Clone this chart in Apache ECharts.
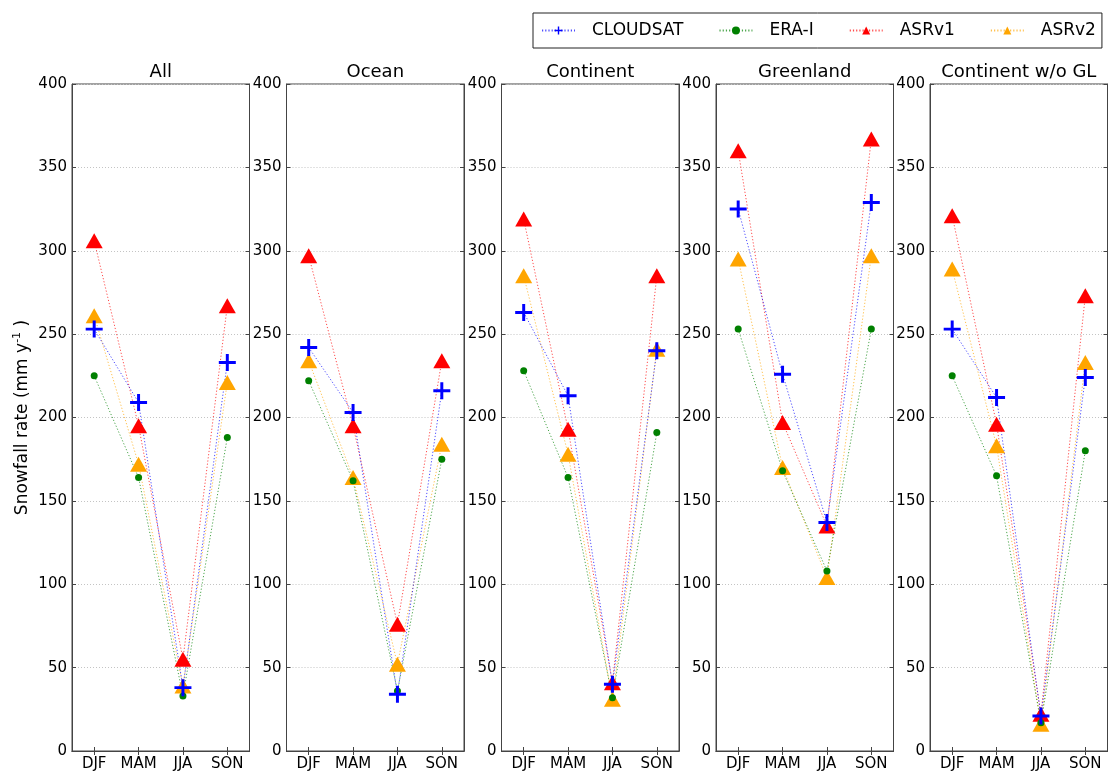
<!DOCTYPE html>
<html><head><meta charset="utf-8">
<script src="https://cdn.jsdelivr.net/npm/echarts@6/dist/echarts.min.js"></script>
<style>html,body{margin:0;padding:0;background:#fff}#c{width:1109px;height:772px}</style>
</head><body><div id="c"></div>
<script>
// ---- data ----
const seasons = ['DJF', 'MAM', 'JJA', 'SON'];
const regions = ['All', 'Ocean', 'Continent', 'Greenland', 'Continent w/o GL'];
const yTicks = [0, 50, 100, 150, 200, 250, 300, 350, 400];
// one row per region, values in season order (mm/y)
const cloudsat = [[253, 209, 38, 233], [242, 203, 34, 216], [263, 213, 40, 240], [325, 226, 137, 329], [253, 212, 21, 224]];
const eraI     = [[225, 164, 33, 188], [222, 162, 36, 175], [228, 164, 32, 191], [253, 168, 108, 253], [225, 165, 17, 180]];
const asrv1    = [[306, 195, 55, 267], [297, 195, 76, 234], [319, 193, 41, 285], [360, 197, 135, 367], [321, 196, 22, 273]];
const asrv2    = [[261, 172, 39, 221], [234, 164, 52, 184], [285, 178, 31, 241], [295, 170, 104, 297], [289, 183, 16, 233]];

// ---- layout / style ----
const FONT = 'DejaVu Sans';
const lefts = [72, 286.5, 501.5, 716, 930];
const W = 177.5, TOP = 84, BOTTOM = 20;
const frame = '#444';
const plusPath = 'path://M6.6,0H9.4V6.6H16V9.4H9.4V16H6.6V9.4H0V6.6H6.6Z';

const seriesDefs = [
  {name: 'ASRv2', data: asrv2, color: '#ffa500', symbol: 'triangle', size: [17, 15]},
  {name: 'ASRv1', data: asrv1, color: '#ff0000', symbol: 'triangle', size: [17, 15]},
  {name: 'ERA-I', data: eraI, color: '#008000', symbol: 'circle', size: 7},
  {name: 'CLOUDSAT', data: cloudsat, color: '#0000ff', symbol: plusPath, size: 17}
];

const grid = [], xAxis = [], yAxis = [], series = [], title = [];
regions.forEach((r, i) => {
  grid.push({left: lefts[i], top: TOP, width: W, bottom: BOTTOM, show: true, borderColor: frame, borderWidth: 1, backgroundColor: 'transparent'});
  title.push({text: r, left: lefts[i] + W / 2, top: 63, textAlign: 'center', padding: 0,
    textStyle: {fontFamily: FONT, fontSize: 18, fontWeight: 'normal', color: '#000'}});
  xAxis.push({type: 'category', gridIndex: i, data: seasons, boundaryGap: true,
    axisLine: {show: true, lineStyle: {color: frame}},
    axisTick: {show: true, inside: true, length: 4, alignWithLabel: true, lineStyle: {color: frame}},
    axisLabel: {fontFamily: FONT, fontSize: 15, color: '#000', margin: 6, interval: 0, hideOverlap: false},
    splitLine: {show: false}});
  xAxis.push({type: 'category', gridIndex: i, data: seasons, position: 'top', boundaryGap: true,
    axisLine: {show: true, lineStyle: {color: frame}},
    axisTick: {show: true, inside: true, length: 4, alignWithLabel: true, interval: 0, lineStyle: {color: frame}},
    axisLabel: {show: false}, splitLine: {show: false}});
  const yMain = {type: 'value', gridIndex: i, min: yTicks[0], max: yTicks[yTicks.length - 1], interval: yTicks[1] - yTicks[0],
    axisLine: {show: true, lineStyle: {color: frame}},
    axisTick: {show: true, inside: true, length: 4, lineStyle: {color: frame}},
    axisLabel: {fontFamily: FONT, fontSize: 15, color: '#000', margin: 5},
    splitLine: {show: true, lineStyle: {color: '#c4c4c4', type: [1, 2], width: 1}}};
  if (i === 0) {
    yMain.name = 'Snowfall rate (mm y{sup|-1} )';
    yMain.nameLocation = 'middle';
    yMain.nameGap = 38;
    yMain.nameRotate = 90;
    yMain.nameTextStyle = {fontFamily: FONT, fontSize: 17, color: '#000', lineHeight: 22,
      rich: {sup: {fontFamily: FONT, fontSize: 11, color: '#000', verticalAlign: 'top', lineHeight: 22}}};
  }
  yAxis.push(yMain);
  yAxis.push({type: 'value', gridIndex: i, position: 'right', min: yTicks[0], max: yTicks[yTicks.length - 1], interval: yTicks[1] - yTicks[0],
    axisLine: {show: true, lineStyle: {color: frame}},
    axisTick: {show: true, inside: true, length: 4, lineStyle: {color: frame}},
    axisLabel: {show: false}, splitLine: {show: false}});
  seriesDefs.forEach(d => {
    series.push({name: d.name, type: 'line', xAxisIndex: 2 * i, yAxisIndex: 2 * i,
      data: d.data[i], symbol: d.symbol, symbolSize: d.size, showSymbol: true,
      itemStyle: {color: d.color, opacity: 1},
      lineStyle: {color: d.color, width: 1, type: [1.2, 2], opacity: 0.7},
      emphasis: {disabled: true}, z: 3});
  });
});
// fix tick interval on bottom axes too
xAxis.forEach(a => { a.axisTick.interval = 0; });

const chart = echarts.init(document.getElementById('c'), null, {renderer: 'canvas'});
chart.setOption({
  animation: false,
  backgroundColor: '#fff',
  title,
  legend: {
    data: ['CLOUDSAT', 'ERA-I', 'ASRv1', 'ASRv2'],
    left: 533, top: 13, orient: 'horizontal',
    padding: [9, 6, 9, 8],
    borderColor: '#222', borderWidth: 1,
    itemWidth: 33, itemHeight: 10, itemGap: 35,
    textStyle: {fontFamily: FONT, fontSize: 17, color: '#000', padding: [0, 0, 0, 12]},
    selectedMode: false
  },
  grid, xAxis, yAxis, series
});
</script></body></html>
